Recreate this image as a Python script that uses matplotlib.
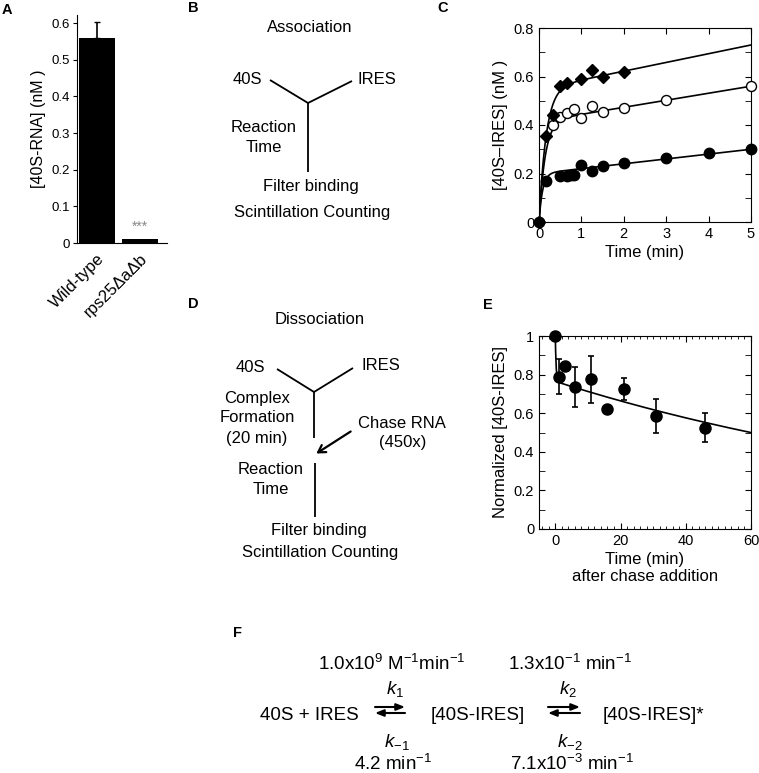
import numpy as np
import matplotlib
matplotlib.use('Agg')
import matplotlib.pyplot as plt
from matplotlib.ticker import MultipleLocator

plt.rcParams['font.family'] = ['Liberation Sans', 'DejaVu Sans']
plt.rcParams['mathtext.fontset'] = 'custom'
plt.rcParams['mathtext.rm'] = 'Liberation Sans'
plt.rcParams['mathtext.it'] = 'Liberation Sans:italic'

W, H = 759, 773

# ---- data ----
# A: 40S binding
strains = ['Wild-type', 'rps25ΔaΔb']
bind_nM = [0.56, 0.012]
bind_err = [0.043, 0.0]

# C: association time course
t_dia = [0, 0.167, 0.33, 0.5, 0.67, 1.0, 1.25, 1.5, 2.0]
y_dia = [0, 0.355, 0.44, 0.56, 0.575, 0.59, 0.625, 0.60, 0.62]
t_open = [0.33, 0.5, 0.67, 0.83, 1.0, 1.25, 1.5, 2.0, 3.0, 5.0]
y_open = [0.40, 0.435, 0.45, 0.465, 0.43, 0.48, 0.455, 0.47, 0.505, 0.56]
t_fill = [0, 0.17, 0.5, 0.67, 0.75, 0.83, 1.0, 1.25, 1.5, 2.0, 3.0, 4.0, 5.0]
y_fill = [0, 0.17, 0.19, 0.19, 0.195, 0.195, 0.235, 0.21, 0.23, 0.245, 0.265, 0.285, 0.30]
# fitted burst + linear phase: amplitude, rate, slope
fit_dia = (0.55, 6.0, 0.036)
fit_open = (0.415, 7.0, 0.029)
fit_fill = (0.20, 12.0, 0.020)

# E: dissociation after chase
t_chase = [0, 1, 3, 6, 11, 16, 21, 31, 46]
y_chase = [1.0, 0.79, 0.845, 0.735, 0.775, 0.62, 0.725, 0.587, 0.525]
e_chase = [0, 0.09, 0, 0.105, 0.12, 0, 0.055, 0.087, 0.075]
# fitted double exponential: a1, k1, a2, k2
fit_chase = (0.235, 4.2, 0.765, 0.0071)


def box(l, t, r, b):
    return [l / W, 1 - b / H, (r - l) / W, (b - t) / H]


fig = plt.figure(figsize=(W / 100, H / 100), dpi=100)

# overlay for labels and schemes (pixel coordinates)
ov = fig.add_axes([0, 0, 1, 1])
ov.set_xlim(0, W)
ov.set_ylim(H, 0)
ov.axis('off')

# ---- A ----
axA = fig.add_axes(box(77, 15, 167, 243))
axA.bar([0, 1], bind_nM, width=0.84, color='black')
axA.errorbar(0, bind_nM[0], yerr=[[0], [bind_err[0]]], color='black', capsize=2.5, lw=1.2)
axA.text(1, 0.033, '***', color='#888888', ha='center', va='baseline', fontsize=10)
axA.set_xlim(-0.465, 1.63)
axA.set_ylim(0, 0.622)
axA.set_yticks(np.arange(0, 0.61, 0.1))
axA.set_yticklabels(['0', '0.1', '0.2', '0.3', '0.4', '0.5', '0.6'])
axA.set_xticks([0, 1])
axA.set_xticklabels(strains, rotation=45, ha='right', rotation_mode='anchor', fontsize=12)
axA.tick_params(axis='x', length=0, pad=6)
axA.tick_params(axis='y', direction='out', length=3, labelsize=9.5, pad=2)
axA.spines['top'].set_visible(False)
axA.spines['right'].set_visible(False)
axA.set_ylabel('[40S-RNA] (nM )', fontsize=11.5, labelpad=4)

# ---- C ----
axC = fig.add_axes(box(539, 28, 751, 222))
tt = np.linspace(0, 5, 400)
for a, k, b in (fit_dia, fit_open, fit_fill):
    axC.plot(tt, a * (1 - np.exp(-k * tt)) + b * tt, color='black', lw=1.2)
axC.plot(t_fill, y_fill, 'o', color='black', ms=7.5, clip_on=False, zorder=3)
axC.plot(t_open, y_open, 'o', mfc='white', mec='black', mew=1.0, ms=7.2, clip_on=False, zorder=3)
axC.plot(t_dia, y_dia, 'D', color='black', ms=6, clip_on=False, zorder=3)
axC.set_xlim(0, 5)
axC.set_ylim(0, 0.8)
axC.set_xticks(range(6))
axC.set_yticks([0, 0.2, 0.4, 0.6, 0.8])
axC.set_yticklabels(['0', '0.2', '0.4', '0.6', '0.8'])
axC.yaxis.set_minor_locator(MultipleLocator(0.1))
axC.tick_params(which='both', direction='in', top=True, right=True, length=4, labelsize=10.5)
axC.set_xlabel('Time (min)', fontsize=12, labelpad=3)
axC.set_ylabel('[40S–IRES] (nM )', fontsize=12, labelpad=4)

# ---- E ----
axE = fig.add_axes(box(539, 336, 751, 529))
te = np.linspace(0, 60, 600)
a1, k1, a2, k2 = fit_chase
axE.plot(te, a1 * np.exp(-k1 * te) + a2 * np.exp(-k2 * te), color='black', lw=1.2)
axE.errorbar(t_chase, y_chase, yerr=e_chase, fmt='o', color='black', ms=8,
             capsize=2, elinewidth=1.2, capthick=1.2, clip_on=False, zorder=3)
axE.set_xlim(-5, 60)
axE.set_ylim(0, 1.0)
axE.set_xticks([0, 20, 40, 60])
axE.xaxis.set_minor_locator(MultipleLocator(2))
axE.set_yticks([0, 0.2, 0.4, 0.6, 0.8, 1.0])
axE.set_yticklabels(['0', '0.2', '0.4', '0.6', '0.8', '1'])
axE.yaxis.set_minor_locator(MultipleLocator(0.1))
axE.tick_params(which='major', direction='in', top=True, right=True, length=4, labelsize=10.5)
axE.tick_params(which='minor', direction='in', top=True, right=True, length=2.5)
axE.tick_params(axis='y', which='minor', length=4)
axE.set_xlabel('Time (min)\nafter chase addition', fontsize=12, labelpad=3)
axE.set_ylabel('Normalized [40S-IRES]', fontsize=12, labelpad=4)

# ---- panel letters ----
for letter, (x, y) in {'A': (7, 10), 'B': (193, 8), 'C': (443, 8),
                       'D': (193, 304), 'E': (488, 305), 'F': (237, 633)}.items():
    ov.text(x, y, letter, fontsize=10.5, fontweight='bold', ha='center', va='center')

lk = dict(color='black', lw=1.3, solid_capstyle='butt')
tk = dict(fontsize=12, ha='center', va='center')

# ---- B scheme ----
ov.text(310, 28, 'Association', **tk)
ov.text(247, 80, '40S', **tk)
ov.text(377, 79, 'IRES', **tk)
ov.plot([270, 308, 352], [80, 103, 81], **lk)
ov.plot([308, 308], [103, 172], **lk)
ov.text(264, 128, 'Reaction', **tk)
ov.text(264, 148, 'Time', **tk)
ov.text(311, 187, 'Filter binding', **tk)
ov.text(312, 213, 'Scintillation Counting', **tk)

# ---- D scheme ----
ov.text(320, 319, 'Dissociation', **tk)
ov.text(250, 367, '40S', **tk)
ov.text(381, 366, 'IRES', **tk)
ov.plot([277, 314, 353], [369, 392, 368], **lk)
ov.plot([314, 314], [392, 438], **lk)
ov.text(257, 398, 'Complex', **tk)
ov.text(257, 418, 'Formation', **tk)
ov.text(257, 438, '(20 min)', **tk)
ov.annotate('', xy=(314, 455), xytext=(353, 430),
            arrowprops=dict(arrowstyle='->,head_length=0.5,head_width=0.3', color='black', lw=1.6))
ov.text(402, 423, 'Chase RNA', **tk)
ov.text(403, 443, '(450x)', **tk)
ov.plot([315, 315], [463, 517], **lk)
ov.text(271, 470, 'Reaction', **tk)
ov.text(271, 490, 'Time', **tk)
ov.text(319, 531, 'Filter binding', **tk)
ov.text(320, 552, 'Scintillation Counting', **tk)

# ---- F scheme ----
fk = dict(fontsize=13.5, ha='center', va='center')
ov.text(392, 664, r'1.0x10$^{9}$ M$^{-1}$min$^{-1}$', **fk)
ov.text(570, 664, r'1.3x10$^{-1}$ min$^{-1}$', **fk)
ov.text(395, 689, r'$\mathit{k}_{1}$', **fk)
ov.text(568, 689, r'$\mathit{k}_{2}$', **fk)
ov.text(309, 715, '40S + IRES', **fk)
ov.text(478, 715, '[40S-IRES]', **fk)
ov.text(653, 715, '[40S-IRES]*', **fk)
ov.text(397, 742, r'$\mathit{k}_{-1}$', **fk)
ov.text(570, 742, r'$\mathit{k}_{-2}$', **fk)
ov.text(393, 764, r'4.2 min$^{-1}$', **fk)
ov.text(572, 764, r'7.1x10$^{-3}$ min$^{-1}$', **fk)
ap = dict(arrowstyle='-|>,head_length=0.5,head_width=0.2', color='black', lw=1.5, shrinkA=0, shrinkB=0)
for x0, x1 in ((375, 405), (548, 580)):
    ov.annotate('', xy=(x1, 707), xytext=(x0, 707), arrowprops=ap)
    ov.annotate('', xy=(x0, 713), xytext=(x1, 713), arrowprops=ap)

fig.savefig('out.png', dpi=100)
